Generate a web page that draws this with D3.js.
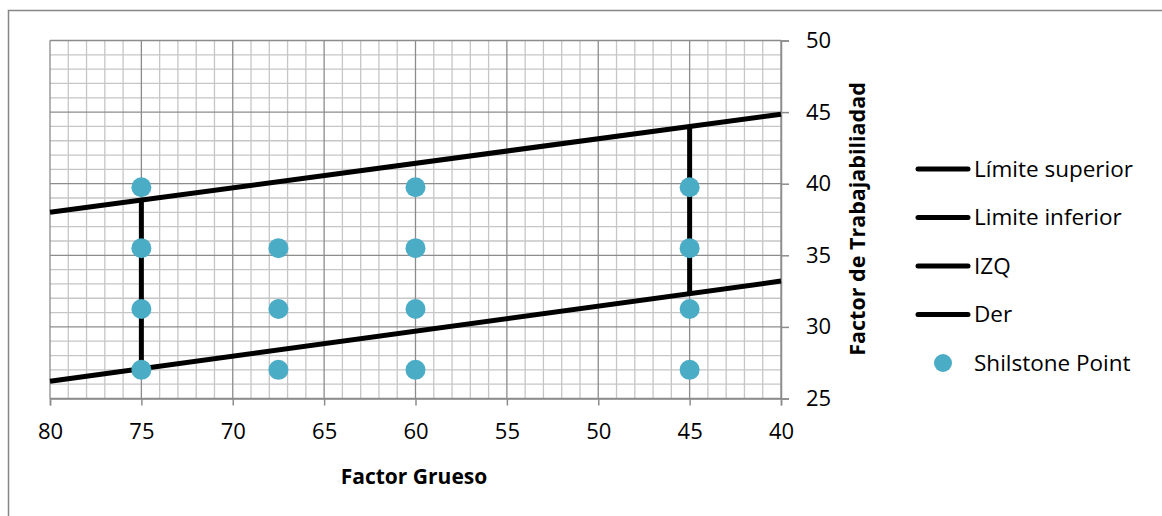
<!DOCTYPE html>
<html lang="es">
<head>
  <meta charset="UTF-8">
  <script src="https://cdn.jsdelivr.net/npm/d3@7"></script>
  <title>Factor Grueso vs Factor de Trabajabilidad</title>
  <style>
    body { margin: 0; background: #fff; }
    * { font-family: "Open Sans", Lato, sans-serif; }
  </style>
</head>
<body>
<div id="chart"></div>
<script>
  // Data
  var limSupX = [80, 40];
  var limSupY = [38, 44.85];
  var limInfX = [80, 40];
  var limInfY = [26.2, 33.2];
  var izqX = [75, 75];
  var izqY = [27.08, 38.86];
  var derX = [45, 45];
  var derY = [32.35, 44.0];
  var pointX = [75, 75, 75, 75, 67.5, 67.5, 67.5, 60, 60, 60, 60, 45, 45, 45, 45];
  var pointY = [39.75, 35.5, 31.25, 27, 35.5, 31.25, 27, 39.75, 35.5, 31.25, 27, 39.75, 35.5, 31.25, 27];
  var xTicks = [80, 75, 70, 65, 60, 55, 50, 45, 40];
  var yTicks = [25, 30, 35, 40, 45, 50];
  var legendLabels = ["Límite superior", "Limite inferior", "IZQ", "Der", "Shilstone Point"];

  var W = 1162, H = 516;
  var margin = {left: 50, top: 40.5, right: 381, bottom: 117.5};
  var width = W - margin.left - margin.right;
  var height = H - margin.top - margin.bottom;

  var svg = d3.select("#chart").append("svg")
      .attr("width", W)
      .attr("height", H);

  // Outer chart frame (only left/top visible)
  svg.append("rect")
    .attr("x", 8.5).attr("y", 10.5)
    .attr("width", 1300).attr("height", 700)
    .attr("fill", "none")
    .attr("stroke", "#868686")
    .attr("stroke-width", 1.5);

  var g = svg.append("g")
      .attr("transform", "translate(" + margin.left + "," + margin.top + ")");

  var x = d3.scaleLinear().domain([80, 40]).range([0, width]);
  var y = d3.scaleLinear().domain([25, 50]).range([height, 0]);

  // Minor grid
  var minorX = d3.range(40, 81, 1);
  var minorY = d3.range(25, 51, 1);
  g.append("g").selectAll("line")
    .data(minorX.filter(function(d) { return d % 5 !== 0; }))
    .enter().append("line")
      .attr("x1", function(d) { return x(d); }).attr("x2", function(d) { return x(d); })
      .attr("y1", 0).attr("y2", height)
      .attr("stroke", "#c6c6c6").attr("stroke-width", 1.3);
  g.append("g").selectAll("line")
    .data(minorY.filter(function(d) { return d % 5 !== 0; }))
    .enter().append("line")
      .attr("y1", function(d) { return y(d); }).attr("y2", function(d) { return y(d); })
      .attr("x1", 0).attr("x2", width)
      .attr("stroke", "#c6c6c6").attr("stroke-width", 1.3);

  // Major grid
  g.append("g").selectAll("line")
    .data(xTicks)
    .enter().append("line")
      .attr("x1", function(d) { return x(d); }).attr("x2", function(d) { return x(d); })
      .attr("y1", 0).attr("y2", height)
      .attr("stroke", "#8c8c8c").attr("stroke-width", 1.3);
  g.append("g").selectAll("line")
    .data(yTicks)
    .enter().append("line")
      .attr("y1", function(d) { return y(d); }).attr("y2", function(d) { return y(d); })
      .attr("x1", 0).attr("x2", width)
      .attr("stroke", "#8c8c8c").attr("stroke-width", 1.3);

  // Axes
  var xAxis = g.append("g")
    .attr("transform", "translate(0," + height + ")")
    .call(d3.axisBottom(x).tickValues(xTicks).tickSize(7).tickPadding(18));
  var yAxis = g.append("g")
    .attr("transform", "translate(" + width + ",0)")
    .call(d3.axisRight(y).tickValues(yTicks).tickSize(8).tickPadding(17));
  [xAxis, yAxis].forEach(function(a) {
    a.select(".domain").attr("stroke", "#8c8c8c").attr("stroke-width", 1.5);
    a.selectAll(".tick line").attr("stroke", "#8c8c8c").attr("stroke-width", 1.5);
    a.selectAll(".tick text").attr("font-size", 22).attr("fill", "#000")
      .style("font-family", "'Open Sans', sans-serif");
  });

  // Lines
  var line = d3.line()
    .x(function(d) { return x(d[0]); })
    .y(function(d) { return y(d[1]); });
  var series = [
    d3.zip(limSupX, limSupY),
    d3.zip(limInfX, limInfY),
    d3.zip(izqX, izqY),
    d3.zip(derX, derY)
  ];
  g.append("g").selectAll("path")
    .data(series)
    .enter().append("path")
      .attr("d", line)
      .attr("fill", "none")
      .attr("stroke", "#000")
      .attr("stroke-width", 5);

  // Shilstone points
  g.append("g").selectAll("circle")
    .data(d3.zip(pointX, pointY))
    .enter().append("circle")
      .attr("cx", function(d) { return x(d[0]); })
      .attr("cy", function(d) { return y(d[1]); })
      .attr("r", 10)
      .attr("fill", "#4bacc6");

  // Axis titles
  svg.append("text")
    .attr("x", 414).attr("y", 484)
    .attr("text-anchor", "middle")
    .attr("font-size", 21).attr("font-weight", "bold")
    .text("Factor Grueso");

  svg.append("text")
    .attr("transform", "translate(865,219) rotate(-90)")
    .attr("text-anchor", "middle")
    .attr("font-size", 21.5).attr("font-weight", "bold")
    .text("Factor de Trabajabiliadad");

  // Legend
  var legend = svg.append("g").selectAll("g")
    .data(legendLabels)
    .enter().append("g")
      .attr("transform", function(d, i) { return "translate(918," + (169 + i * 48.5) + ")"; });
  legend.filter(function(d, i) { return i < 4; }).append("line")
    .attr("x1", 0).attr("x2", 50)
    .attr("stroke", "#000").attr("stroke-width", 5)
    .attr("stroke-linecap", "round");
  legend.filter(function(d, i) { return i === 4; }).append("circle")
    .attr("cx", 25).attr("r", 9)
    .attr("fill", "#4bacc6");
  legend.append("text")
    .attr("x", 56).attr("dy", "0.35em")
    .attr("font-size", 22.5)
    .text(function(d) { return d; });
</script>
</body>
</html>
